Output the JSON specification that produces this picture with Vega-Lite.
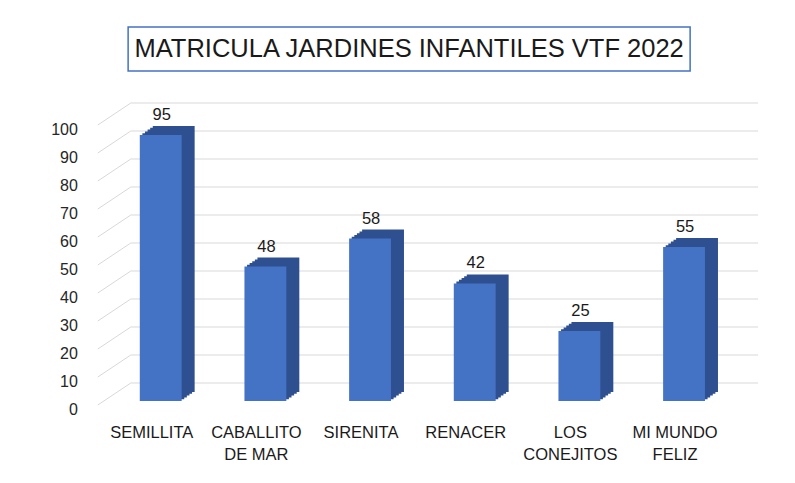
{
  "$schema": "https://vega.github.io/schema/vega-lite/v6.json",
  "background": "white",
  "padding": {"left": 50, "top": 26, "right": 0, "bottom": 0},
  "config": {"view": {"stroke": null}, "font": "Liberation Sans"},
  "datasets": {
    "bars": [
      {"jardin": "SEMILLITA", "matricula": 95},
      {"jardin": "CABALLITO DE MAR", "matricula": 48},
      {"jardin": "SIRENITA", "matricula": 58},
      {"jardin": "RENACER", "matricula": 42},
      {"jardin": "LOS CONEJITOS", "matricula": 25},
      {"jardin": "MI MUNDO FELIZ", "matricula": 55}
    ],
    "ticks": [
      {"v": 0}, {"v": 10}, {"v": 20}, {"v": 30}, {"v": 40}, {"v": 50},
      {"v": 60}, {"v": 70}, {"v": 80}, {"v": 90}, {"v": 100}
    ]
  },
  "spacing": 30,
  "center": true,
  "vconcat": [
    {
      "width": 562,
      "height": 44,
      "view": {"stroke": "#4472C4", "strokeWidth": 1.5},
      "data": {"values": [{"titulo": "MATRICULA JARDINES INFANTILES VTF 2022"}]},
      "layer": [
        {
          "mark": {"type": "text", "fontSize": 25.5, "color": "#1a1a1a"},
          "encoding": {
            "text": {"field": "titulo"},
            "x": {"datum": 0.5, "type": "quantitative", "scale": {"domain": [0, 1]}, "axis": null},
            "y": {"datum": 0.5, "type": "quantitative", "scale": {"domain": [0, 1]}, "axis": null}
          }
        },
        {
          "mark": {"type": "rule", "strokeOpacity": 0, "x2Offset": 48},
          "encoding": {
            "x": {"datum": 1, "type": "quantitative"},
            "x2": {"datum": 1},
            "y": {"datum": 0.5, "type": "quantitative"}
          }
        }
      ]
    },
    {
      "width": 628,
      "height": 280,
      "encoding": {
        "y": {
          "field": "matricula", "type": "quantitative",
          "scale": {"domain": [0, 100], "nice": false},
          "axis": {
            "title": null, "values": [0, 10, 20, 30, 40, 50, 60, 70, 80, 90, 100],
            "tickCount": 11, "labelOverlap": false,
            "domain": false, "ticks": false, "grid": false,
            "labelPadding": 31, "labelOffset": 8, "labelFontSize": 16, "labelColor": "#262626"
          }
        },
        "x": {
          "field": "jardin", "type": "nominal", "sort": null,
          "scale": {
            "domain": ["SEMILLITA", "CABALLITO DE MAR", "SIRENITA", "RENACER", "LOS CONEJITOS", "MI MUNDO FELIZ"],
            "paddingInner": 0.6, "paddingOuter": 0.3
          },
          "axis": {
            "title": null, "labelAngle": 0, "domain": false, "ticks": false,
            "labelPadding": 23, "labelFontSize": 16.5, "labelColor": "#1a1a1a",
            "labelOffset": -9, "labelLineHeight": 22,
            "labelExpr": "datum.label == 'CABALLITO DE MAR' ? ['CABALLITO', 'DE MAR'] : datum.label == 'LOS CONEJITOS' ? ['LOS', 'CONEJITOS'] : datum.label == 'MI MUNDO FELIZ' ? ['MI MUNDO', 'FELIZ'] : datum.label"
          }
        }
      },
      "layer": [
        {
          "data": {"name": "ticks"},
          "mark": {"type": "rule", "color": "#D9D9D9", "strokeWidth": 1, "xOffset": -9, "x2Offset": 95, "yOffset": -18, "y2Offset": -18},
          "encoding": {
            "x": {"datum": "SEMILLITA", "type": "nominal", "bandPosition": 0},
            "x2": {"datum": "MI MUNDO FELIZ", "bandPosition": 0},
            "y": {"field": "v", "type": "quantitative"},
            "y2": {"field": "v"}
          }
        },
        {
          "data": {"name": "ticks"},
          "mark": {"type": "rule", "color": "#D9D9D9", "strokeWidth": 1, "xOffset": -42, "x2Offset": -9, "yOffset": 4, "y2Offset": -18},
          "encoding": {
            "x": {"datum": "SEMILLITA", "type": "nominal", "bandPosition": 0},
            "x2": {"datum": "SEMILLITA", "bandPosition": 0},
            "y": {"field": "v", "type": "quantitative"},
            "y2": {"field": "v"}
          }
        },
        {
          "data": {"name": "bars"},
          "mark": {"type": "bar", "color": "#2F5090", "xOffset": 13, "yOffset": -9, "y2Offset": -9}
        },
        {
          "data": {"name": "bars"},
          "mark": {"type": "bar", "color": "#2F5090", "xOffset": 10.4, "yOffset": -7.2, "y2Offset": -7.2}
        },
        {
          "data": {"name": "bars"},
          "mark": {"type": "bar", "color": "#2F5090", "xOffset": 7.8, "yOffset": -5.4, "y2Offset": -5.4}
        },
        {
          "data": {"name": "bars"},
          "mark": {"type": "bar", "color": "#2F5090", "xOffset": 5.2, "yOffset": -3.6, "y2Offset": -3.6}
        },
        {
          "data": {"name": "bars"},
          "mark": {"type": "bar", "color": "#2F5090", "xOffset": 2.6, "yOffset": -1.8, "y2Offset": -1.8}
        },
        {
          "data": {"name": "bars"},
          "mark": {"type": "bar", "color": "#4472C4"}
        },
        {
          "data": {"name": "bars"},
          "mark": {"type": "text", "fontSize": 16.5, "baseline": "bottom", "yOffset": -12, "xOffset": 1, "color": "#1a1a1a"},
          "encoding": {
            "text": {"field": "matricula", "type": "quantitative"}
          }
        }
      ]
    }
  ]
}
